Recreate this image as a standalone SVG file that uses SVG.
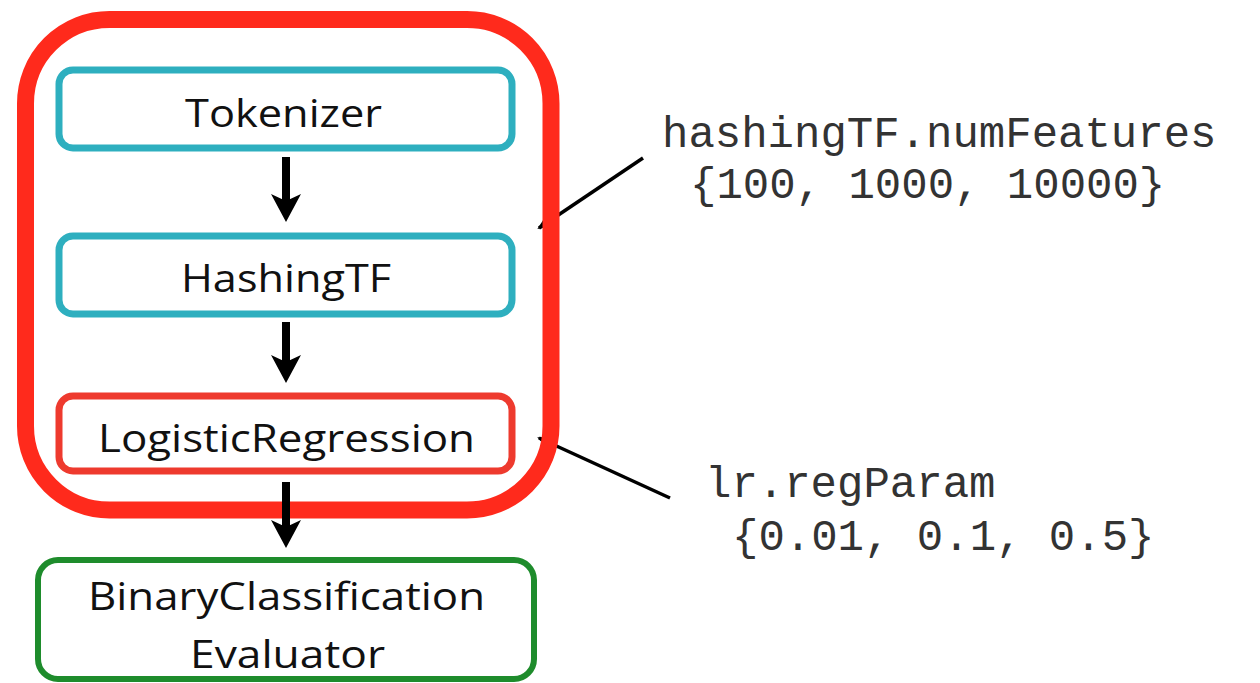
<svg xmlns="http://www.w3.org/2000/svg" width="1260" height="683" viewBox="0 0 1260 683">
  <style>
    .lbl { font-family: "Open Sans", "Liberation Sans", Arial, sans-serif; font-size: 39px; fill: #111; }
    .code { font-family: "Liberation Mono", "Courier New", monospace; font-size: 44px; fill: #333; }
    .cyan { fill: #fff; stroke: #2EAFBF; stroke-width: 7; }
    .redbox { fill: #fff; stroke: #EE3A2E; stroke-width: 7; }
    .green { fill: #fff; stroke: #1E8C2C; stroke-width: 6; }
    .flow { stroke: #000; stroke-width: 8; fill: none; marker-end: url(#chev); }
    .leader { stroke: #000; stroke-width: 3.5; fill: none; marker-end: url(#small); }
  </style>
  <defs>
    <marker id="chev" markerUnits="userSpaceOnUse" viewBox="0 0 30 32" markerWidth="30" markerHeight="32" refX="14" refY="16" orient="auto">
      <polygon points="0,1 28,16 0,31 7,16" fill="#000"/>
    </marker>
    <marker id="small" markerUnits="userSpaceOnUse" viewBox="0 0 14 12" markerWidth="14" markerHeight="12" refX="12" refY="6" orient="auto">
      <polygon points="0,0 14,6 0,12" fill="#000"/>
    </marker>
  </defs>
  <rect width="1260" height="683" fill="#fff"/>

  <g id="connectors">
    <line class="leader" x1="643" y1="158" x2="539" y2="228"/>
    <line class="leader" x1="670" y1="498" x2="539" y2="438"/>
  </g>

  <g id="pipeline">
    <rect x="25.5" y="19.5" width="525.5" height="490.5" rx="84" fill="none" stroke="#FF2A1C" stroke-width="17"/>
  </g>

  <g id="tokenizer">
    <rect class="cyan" x="59" y="70" width="453" height="78" rx="14"/>
    <text class="lbl" x="185" y="127" textLength="197" lengthAdjust="spacingAndGlyphs">Tokenizer</text>
  </g>
  <g id="hashingtf">
    <rect class="cyan" x="59" y="236" width="453" height="78" rx="14"/>
    <text class="lbl" x="181" y="292" textLength="210" lengthAdjust="spacingAndGlyphs">HashingTF</text>
  </g>
  <g id="logreg">
    <rect class="redbox" x="59" y="396" width="453" height="75" rx="14"/>
    <text class="lbl" x="98" y="452" textLength="377" lengthAdjust="spacingAndGlyphs">LogisticRegression</text>
  </g>
  <g id="evaluator">
    <rect class="green" x="38" y="560" width="496" height="119" rx="20"/>
    <text class="lbl" x="88" y="610" textLength="397" lengthAdjust="spacingAndGlyphs">BinaryClassification</text>
    <text class="lbl" x="190" y="668" textLength="195" lengthAdjust="spacingAndGlyphs">Evaluator</text>
  </g>

  <g id="flow-arrows">
    <line class="flow" x1="286" y1="157" x2="286" y2="208"/>
    <line class="flow" x1="286" y1="322" x2="286" y2="369"/>
    <line class="flow" x1="286" y1="482" x2="286" y2="534"/>
  </g>

  <g id="param-hashing">
    <text class="code" x="662" y="147">hashingTF.numFeatures</text>
    <text class="code" x="690" y="198">{100, 1000, 10000}</text>
  </g>
  <g id="param-lr">
    <text class="code" x="705" y="497">lr.regParam</text>
    <text class="code" x="732" y="550">{0.01, 0.1, 0.5}</text>
  </g>
</svg>
